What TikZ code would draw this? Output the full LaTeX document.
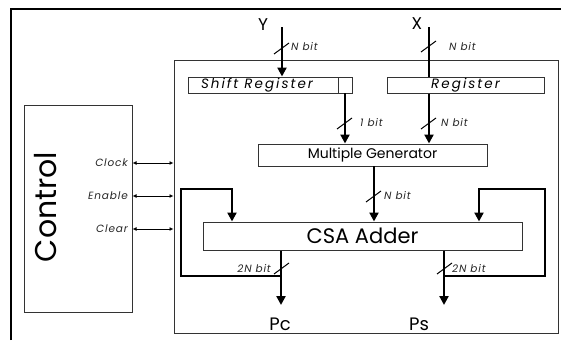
\documentclass[tikz,border=0pt]{standalone}
\usepackage{fontspec}
\setmainfont{Poppins}
\usetikzlibrary{arrows.meta}
\begin{document}
\begin{tikzpicture}[x=1pt,y=-1pt,
 box/.style={draw=black!80,line width=1pt,inner sep=0pt,rectangle},
 bus/.style={line width=2.6pt,-{Triangle[length=9pt,width=9pt]}},
 wire/.style={line width=2.6pt},
 ctl/.style={line width=0.9pt,{Latex[length=4pt,width=4pt]}-{Latex[length=4pt,width=4pt]}},
 slash/.style={line width=1pt},
 lbl/.style={font=\itshape\fontsize{10.5}{10.5}\selectfont\addfontfeature{LetterSpace=8},inner sep=0pt,text=black!85},
 regf/.style={font=\itshape\fontsize{13.5}{13.5}\selectfont\addfontfeature{LetterSpace=15}},
 big/.style={font=\fontsize{#1}{#1}\selectfont,inner sep=0pt},
]
\useasboundingbox (0,0) rectangle (561,340);
% outer frame (cropped)
\draw[line width=1.5pt] (11,340) -- (11,9) -- (561,9);
% main box
\node[box,minimum width=384pt,minimum height=273pt] (main) at (366,196.5) {};
% control
\node[box,minimum width=108pt,minimum height=207pt] (ctrl) at (78,208.5) {};
\node[big=30,rotate=90] (ctrltxt) at (46,207) {Control};
% blocks
\node[box,minimum width=164pt,minimum height=16pt] (sr) at (270,85) {};
\node[inner sep=0pt,regf] (srtxt) at (257,85) {Shift Register};
\draw[line width=1pt,draw=black!80] (338,77) -- (338,93);
\node[box,minimum width=157pt,minimum height=16pt,regf] (reg) at (465.5,85) {Register};
\node[box,minimum width=229pt,minimum height=22pt,font=\fontsize{14}{14}\selectfont] (mg) at (372.5,155) {Multiple Generator};
\node[box,minimum width=319pt,minimum height=28pt,font=\fontsize{21}{21}\selectfont] (csa) at (362.5,236) {CSA Adder};
% inputs
\coordinate (yin) at (282,27);
\coordinate (xin) at (429,27);
\node[big=17] (ylab) at (263,25) {Y};
\node[big=17] (xlab) at (417,24) {X};
\draw[bus] (yin) -- (yin |- sr.north);
\draw[wire] (xin) -- (xin |- reg.north);
\draw[slash] (274,54) -- (289,43);
\draw[slash] (421,52) -- (436,41);
\node[lbl,anchor=west] (ynb) at (291,47) {N bit};
\node[lbl,anchor=west] (xnb) at (449,47) {N bit};
% to multiple generator
\coordinate (sro) at (345,93);
\draw[bus] (sro) -- (sro |- mg.north);
\draw[bus] (xin |- reg.south) -- (xin |- mg.north);
\draw[slash] (337,129) -- (352,118);
\draw[slash] (421,129) -- (436,118);
\node[lbl,anchor=west] (onebit) at (360,123) {1 bit};
\node[lbl,anchor=west] (rnb) at (441,123) {N bit};
% to CSA
\coordinate (mgo) at (374,166);
\draw[bus] (mgo) -- (mgo |- csa.north);
\draw[slash] (366,202) -- (381,191);
\node[lbl,anchor=west] (mnb) at (384,196) {N bit};
% outputs
\coordinate (pcx) at (281,305);
\coordinate (psx) at (444,305);
\draw[bus] (pcx |- csa.south) -- (pcx);
\draw[bus] (psx |- csa.south) -- (psx);
\node[big=18] (pc) at (280,324) {Pc};
\node[big=18] (ps) at (419,324) {Ps};
\draw[slash] (274,274) -- (289,263);
\draw[slash] (437,274) -- (452,263);
\node[lbl,anchor=east] (pcnb) at (271,269) {2N bit};
\node[lbl,anchor=west] (psnb) at (452,269) {2N bit};
% feedback loops
\coordinate (fl) at (232,189);
\coordinate (fr) at (479,189);
\draw[line width=2.6pt,-{Triangle[length=9pt,width=9pt]}] (281,276) -- (181,276) -- (181,189) -- (fl) -- (fl |- csa.north);
\draw[line width=2.6pt,-{Triangle[length=9pt,width=9pt]}] (444,276) -- (545,276) -- (545,189) -- (fr) -- (fr |- csa.north);
% control lines
\foreach \yy/\nm in {163/Clock,196/Enable,229/Clear}{
  \draw[ctl] (ctrl.east |- 0,\yy) -- (main.west |- 0,\yy);
  \node[lbl,anchor=east] at (128,\yy) {\nm};
}
\end{tikzpicture}
\end{document}
